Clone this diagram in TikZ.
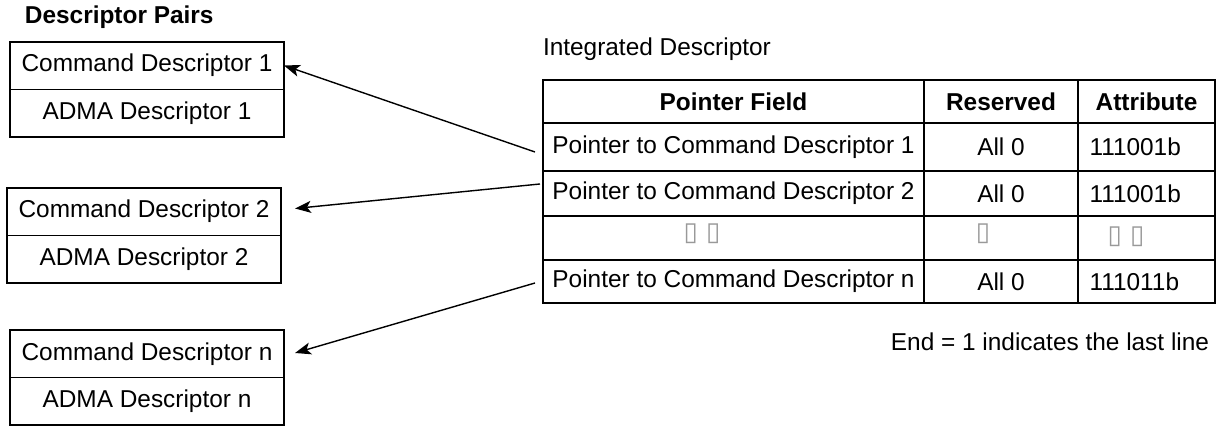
\documentclass[tikz,border=0pt]{standalone}
\usepackage{fontspec}
\setmainfont{Liberation Sans}
\newfontfamily\tofufont{DejaVu Sans}
\usetikzlibrary{arrows.meta,positioning}

\begin{document}
\begin{tikzpicture}[x=0.5pt,y=-0.5pt,
    every node/.style={font=\fontsize{12.2}{14}\selectfont, inner sep=0pt, outer sep=0pt},
    bold/.style={font=\fontsize{12.2}{14}\selectfont\bfseries},
    half/.style={draw, line width=0.6pt, minimum width=137pt, minimum height=23.75pt},
    cell/.style={draw, line width=0.9pt},
    flag/.style={text width=57pt, align=left},
    tofu/.style={font=\tofufont\fontsize{13}{14}\selectfont, text=gray!80},
    ptr/.style={line width=0.7pt, -{Stealth[length=8pt,width=6pt,inset=2pt]}}]
    \useasboundingbox (0,0) rectangle (1224,426);

    % descriptor pairs
    \node[bold, anchor=west] (pairs) at (25,17) {Descriptor Pairs};
    \node[half] (cmd1) at (147,65.5) {Command Descriptor 1};
    \node[half, below=0pt of cmd1] (adma1) {ADMA Descriptor 1};
    \node[half] (cmd2) at (144,211.5) {Command Descriptor 2};
    \node[half, below=0pt of cmd2] (adma2) {ADMA Descriptor 2};
    \node[half] (cmd3) at (147,354) {Command Descriptor n};
    \node[half, below=0pt of cmd3] (adma3) {ADMA Descriptor n};
    \draw[line width=1pt] (cmd1.north west) rectangle (adma1.south east);
    \draw[line width=1pt] (cmd2.north west) rectangle (adma2.south east);
    \draw[line width=1pt] (cmd3.north west) rectangle (adma3.south east);

    % integrated descriptor table
    \node[anchor=west] (integ) at (543,49) {Integrated Descriptor};
    \node[cell, bold, minimum width=190.5pt, minimum height=21.5pt] (hptr) at (733.5,101.5) {Pointer Field};
    \node[cell, bold, minimum width=77pt, minimum height=21.5pt] (hres) at (1001,101.5) {Reserved};
    \node[cell, bold, minimum width=68.5pt, minimum height=21.5pt] (hattr) at (1146.5,101.5) {Attribute};
    \node[cell, minimum width=190.5pt, minimum height=24pt] (p1) at (733.5,147) {Pointer to Command Descriptor 1};
    \node[cell, minimum width=77pt, minimum height=24pt] (r1) at (1001,147) {All 0};
    \node[cell, flag, minimum width=68.5pt, minimum height=24pt] (a1) at (1146.5,147) {111001b};
    \node[cell, minimum width=190.5pt, minimum height=22.5pt] (p2) at (733.5,193.5) {Pointer to Command Descriptor 2};
    \node[cell, minimum width=77pt, minimum height=22.5pt] (r2) at (1001,193.5) {All 0};
    \node[cell, flag, minimum width=68.5pt, minimum height=22.5pt] (a2) at (1146.5,193.5) {111001b};
    \node[cell, minimum width=190.5pt, minimum height=22pt] (p3) at (733.5,238) {};
    \node[cell, minimum width=77pt, minimum height=22pt] (r3) at (1001,238) {};
    \node[cell, minimum width=68.5pt, minimum height=22pt] (a3) at (1146.5,238) {};
    \node[cell, minimum width=190.5pt, minimum height=21.5pt] (pn) at (733.5,281.5) {Pointer to Command Descriptor n};
    \node[cell, minimum width=77pt, minimum height=21.5pt] (rn) at (1001,281.5) {All 0};
    \node[cell, flag, minimum width=68.5pt, minimum height=21.5pt] (an) at (1146.5,281.5) {111011b};
    \draw[line width=1.4pt] (hptr.north west) rectangle (an.south east);
    \node[tofu] (dotsp) at (702,234) {▯ ▯};
    \node[tofu] (dotsr) at (983,234) {▯};
    \node[tofu] (dotsa) at (1126,237) {▯ ▯};
    \node[anchor=east] (endnote) at (1209,342) {End = 1 indicates the last line};

    % pointers
    \draw[ptr] ([xshift=-4pt,yshift=-2.5pt]p1.west) -- (cmd1.east);
    \draw[ptr] ([xshift=-1.5pt,yshift=4.75pt]p2.west) -- ([xshift=7pt,yshift=1.5pt]cmd2.east);
    \draw[ptr] ([xshift=-4pt,yshift=-0.75pt]pn.west) -- ([xshift=5.5pt,yshift=0.5pt]cmd3.east);
\end{tikzpicture}
\end{document}
